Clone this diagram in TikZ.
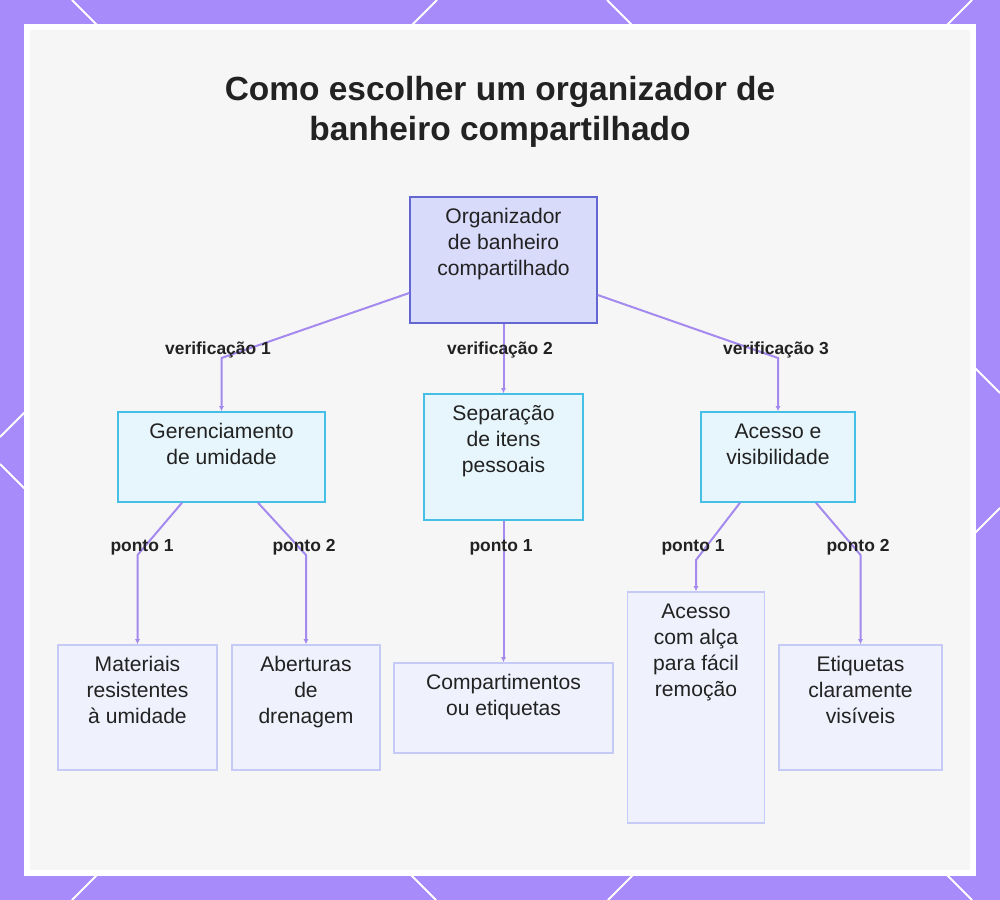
\documentclass[tikz,border=0pt]{standalone}
\usepackage{fontspec}
\setmainfont{Liberation Sans}
\usetikzlibrary{arrows.meta}
\newlength\px
\setlength\px{0.025cm}
\definecolor{framepurple}{HTML}{A78BFA}
\definecolor{linkpurple}{HTML}{A48AEE}
\definecolor{rootfill}{HTML}{D9DBFB}
\definecolor{rootline}{HTML}{6466D2}
\definecolor{midfill}{HTML}{E6F6FC}
\definecolor{midline}{HTML}{45BFE6}
\definecolor{leaffill}{HTML}{EFF1FD}
\definecolor{leafline}{HTML}{C6CAF6}
\definecolor{panelgray}{HTML}{F6F6F6}
\definecolor{inkdark}{HTML}{222222}

\begin{document}
\begin{tikzpicture}[x=1\px,y=-1\px,
 box/.style={draw,line width=1.5\px,inner sep=0pt},
 rootbox/.style={box,fill=rootfill,draw=rootline},
 midbox/.style={box,fill=midfill,draw=midline},
 leafbox/.style={box,fill=leaffill,draw=leafline},
 txt/.style={font=\fontsize{15}{18.5}\selectfont,text=inkdark,align=center,inner sep=0pt,anchor=north,yshift=-12\px},
 check/.style={font=\bfseries\fontsize{12.4}{14}\selectfont,text=inkdark,inner sep=0pt},
 link/.style={linkpurple,line width=2\px,-{Latex[length=3.6pt,width=3.6pt]}}]
\useasboundingbox (0,0) rectangle (1000,900);
% frame with diagonal lattice
\fill[framepurple] (0,0) rectangle (1000,900);
\draw[white,line width=2\px] (72,0)--(972,900) (607,0)--(1000,393) (0,464)--(436,900)
 (437,0)--(0,437) (972,0)--(72,900) (1000,508)--(608,900);
\fill[white] (24,24) rectangle (976,876);
\fill[panelgray] (30,30) rectangle (970,870);
\node[font=\bfseries\fontsize{23.8}{28.5}\selectfont,text=inkdark,align=center] (title) at (500,112)
 {Como escolher um organizador de\\banheiro compartilhado};
% boxes
\node[rootbox,minimum width=187\px,minimum height=126\px,
 label={[txt]north:{Organizador\\de banheiro\\compartilhado}}] (root) at (503.5,260) {};
\node[midbox,minimum width=207\px,minimum height=90\px,
 label={[txt]north:{Gerenciamento\\de umidade}}] (moist) at (221.5,457) {};
\node[midbox,minimum width=159\px,minimum height=126\px,
 label={[txt]north:{Separação\\de itens\\pessoais}}] (split) at (503.5,457) {};
\node[midbox,minimum width=154\px,minimum height=90\px,
 label={[txt]north:{Acesso e\\visibilidade}}] (access) at (778,457) {};
\node[leafbox,minimum width=159\px,minimum height=125\px,
 label={[txt]north:{Materiais\\resistentes\\à umidade}}] (mat) at (137.5,707.5) {};
\node[leafbox,minimum width=148\px,minimum height=125\px,
 label={[txt]north:{Aberturas\\de\\drenagem}}] (drain) at (306,707.5) {};
\node[leafbox,minimum width=219\px,minimum height=90\px,
 label={[txt]north:{Compartimentos\\ou etiquetas}}] (comp) at (503.5,708) {};
\node[leafbox,minimum width=137\px,minimum height=231\px,
 label={[txt]north:{Acesso\\com alça\\para fácil\\remoção}}] (handle) at (696,707.5) {};
\node[leafbox,minimum width=163\px,minimum height=125\px,
 label={[txt]north:{Etiquetas\\claramente\\visíveis}}] (tags) at (860.5,707.5) {};
% connectors
\draw[link] (root.west |- 0,293) -- (moist.north |- 0,358) -- (moist.north);
\draw[link] (root.south) -- (split.north);
\draw[link] (root.east |- 0,295) -- (access.north |- 0,358) -- (access.north);
\draw[link] (moist.south -| 182,0) -- (mat.north |- 0,555) -- (mat.north);
\draw[link] (moist.south -| 258,0) -- (drain.north |- 0,555) -- (drain.north);
\draw[link] (split.south) -- (comp.north);
\draw[link] (access.south -| 740,0) -- (handle.north |- 0,560) -- (handle.north);
\draw[link] (access.south -| 816,0) -- (tags.north |- 0,555) -- (tags.north);
% connector labels
\node[check] (v1) at (218,350) {verificação 1};
\node[check] (v2) at (500,350) {verificação 2};
\node[check] (v3) at (776,350) {verificação 3};
\node[check] (p11) at (142,547) {ponto 1};
\node[check] (p12) at (304,547) {ponto 2};
\node[check] (p21) at (501,547) {ponto 1};
\node[check] (p31) at (693,547) {ponto 1};
\node[check] (p32) at (858,547) {ponto 2};
\end{tikzpicture}
\end{document}
